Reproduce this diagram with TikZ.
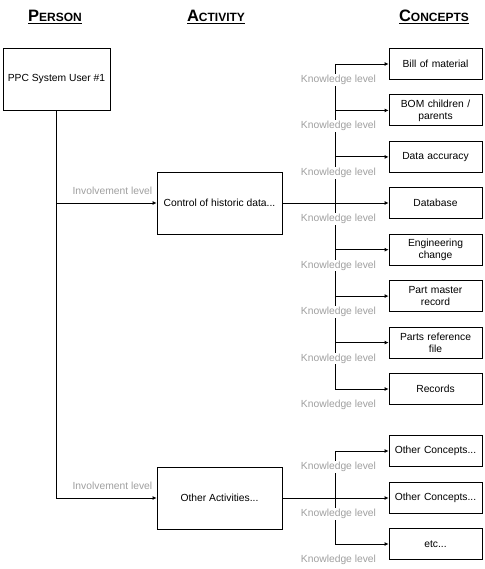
\documentclass[tikz,border=0pt]{standalone}
\usepackage{fontspec}
\setmainfont{Liberation Sans}
\usetikzlibrary{arrows.meta, positioning}
\definecolor{lvlGray}{RGB}{160,160,160}
\newcommand{\colHead}[2]{\underline{{\fontsize{16.5}{16}\selectfont #1}{\fontsize{12}{12}\selectfont #2}}}
\tikzset{
    box/.style={draw=black, fill=white, line width=0.8pt, align=center, inner sep=1pt, font=\fontsize{10.3}{12}\selectfont},
    personBox/.style={box, minimum width=107pt, minimum height=62pt},
    actBox/.style={box, minimum width=125pt, minimum height=62pt},
    conBox/.style={box, minimum width=93pt, minimum height=31pt, text width=88pt},
    lvl/.style={fill=white, text=lvlGray, inner sep=1pt, font=\fontsize{10.3}{11}\selectfont},
    link/.style={-{Latex[length=4pt, width=4pt]}, line width=0.8pt},
    heading/.style={font=\bfseries}
}

\begin{document}
\begin{tikzpicture}[x=1pt, y=-1pt, line width=0.8pt]
    \useasboundingbox (0,0) rectangle (484,569);
    % --- Headings ---
    \node[heading] (hPerson) at (55,17) {\colHead{P}{ERSON}};
    \node[heading] (hActivity) at (216,17) {\colHead{A}{CTIVITY}};
    \node[heading] (hConcepts) at (434,17) {\colHead{C}{ONCEPTS}};
    % --- Person and activities ---
    \node[personBox] (person) at (56.5,79) {PPC System User \#1};
    \node[actBox] (act1) at (219.5,203) {Control of historic data...};
    \node[actBox] (act2) at (219.5,498) {Other Activities...};
    \draw[link] (person.south) |- (act2.west);
    \draw[link] (person.south |- act1.west) -- (act1.west);
    \node[lvl, above left=7pt and 3pt of act1.west] (inv1) {Involvement level};
    \node[lvl, above left=7pt and 3pt of act2.west] (inv2) {Involvement level};
    % --- Concepts ---
    \foreach \name/\y/\txt in {c1/64/{Bill of material}, c2/110.4/{BOM children /\\parents},
        c3/156.9/{Data accuracy}, c4/203/{Database}, c5/249.7/{Engineering\\change},
        c6/296.1/{Part master\\record}, c7/342.6/{Parts reference\\file}, c8/389/{Records},
        c9/451/{Other Concepts{.}..}, c10/498/{Other Concepts{.}..}, c11/544/{etc{.}..}}
        \node[conBox] (\name) at (435.5,\y) {\txt};
    \coordinate (bus) at (335,0);
    \draw (bus |- c1.west) -- (bus |- c8.west);
    \draw (bus |- c9.west) -- (bus |- c11.west);
    \foreach \name in {c1,c2,c3,c5,c6,c7,c8,c9,c11}
        \draw[link] (bus |- \name.west) -- (\name.west);
    \draw[link] (act1.east) -- (c4.west);
    \draw[link] (act2.east) -- (c10.west);
    \foreach \name in {c1,c2,c3,c4,c5,c6,c7,c8,c9,c10,c11}
        \node[lvl, xshift=3.5pt] (k\name) at (bus |- \name.south) {Knowledge level};
\end{tikzpicture}
\end{document}
